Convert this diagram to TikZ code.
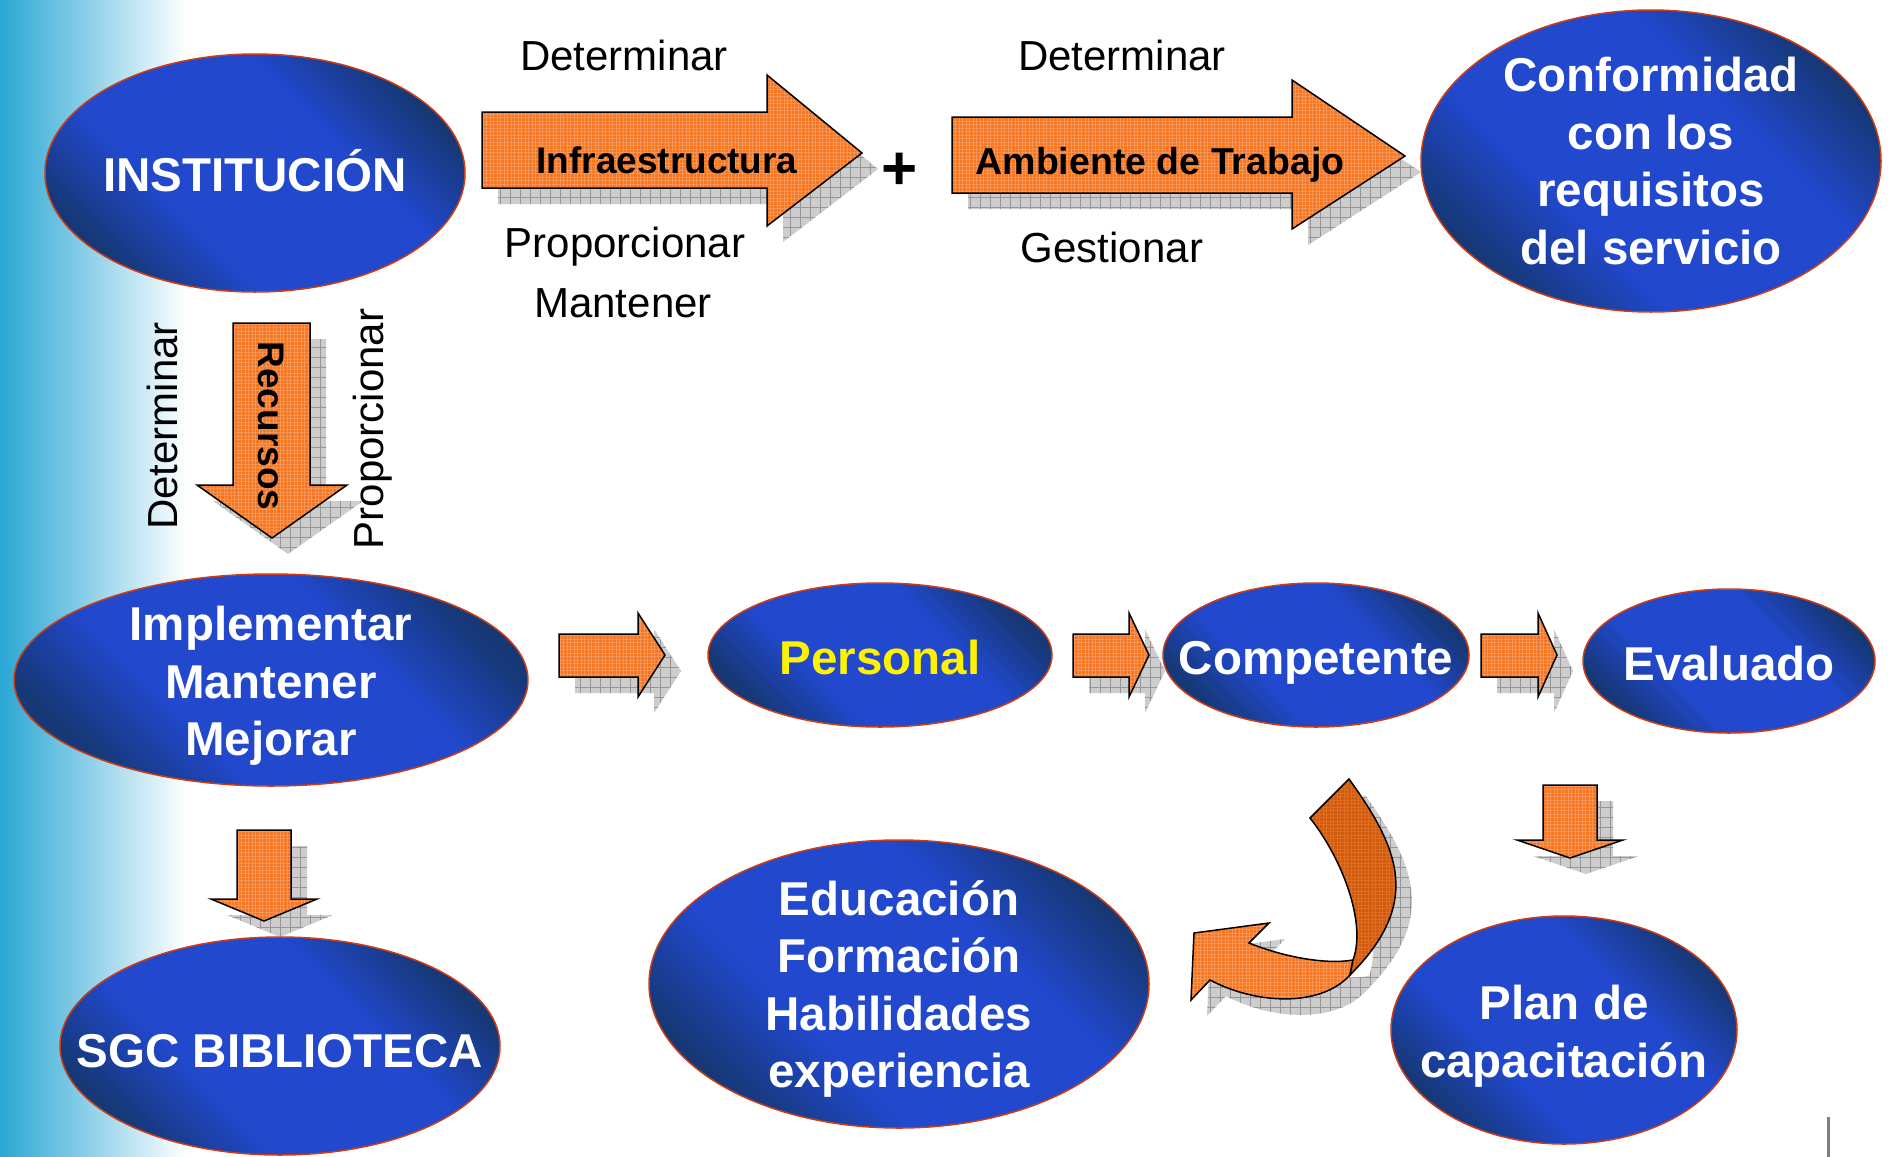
\documentclass[tikz,border=0pt]{standalone}
\usepackage{fontspec}
\setmainfont{Liberation Sans}
\usetikzlibrary{shapes.geometric,patterns.meta}
\definecolor{blueB}{RGB}{33,72,205}
\definecolor{navyD}{RGB}{22,56,118}
\definecolor{ellred}{RGB}{205,60,20}
\definecolor{orangeA}{RGB}{244,118,32}
\definecolor{orangeL}{RGB}{250,150,85}
\definecolor{orangeD}{RGB}{208,90,14}
\definecolor{orangeDL}{RGB}{224,110,35}
\definecolor{cyanL}{RGB}{42,166,212}
\definecolor{shgray}{RGB}{205,205,205}
\definecolor{shline}{RGB}{150,150,150}
\pgfdeclareverticalshading{ellshade}{100bp}{color(0bp)=(navyD); color(25bp)=(navyD); color(38bp)=(blueB); color(62bp)=(blueB); color(75bp)=(navyD); color(100bp)=(navyD)}
\newcommand\ellfont{\fontsize{47.5}{57.5}\selectfont\bfseries}
\newcommand\lblfont{\fontsize{42}{50}\selectfont}
\tikzset{
  ell/.style={ellipse, draw=ellred, line width=1.5pt, shading=ellshade, shading angle=-45, inner sep=0pt},
  etext/.style={text=white, font=\ellfont, align=center, inner sep=0pt},
  shadowfill/.style={fill=shgray, postaction={pattern={Hatch[angle=0,distance=10pt,line width=0.7pt]}, pattern color=shline}},
  arrowfill/.style={preaction={fill=orangeA}, preaction={pattern={Hatch[angle=0,distance=3.5pt,line width=0.4pt]}, pattern color=orangeL}, draw=black, line width=1.5pt, line join=miter},
  darkfill/.style={preaction={fill=orangeD}, preaction={pattern={Hatch[angle=0,distance=3.5pt,line width=0.4pt]}, pattern color=orangeDL}, draw=black, line width=1.5pt},
  lbl/.style={font=\lblfont, text=black, inner sep=0pt},
  albl/.style={font=\fontsize{37}{40}\selectfont\bfseries, text=black, inner sep=0pt}
}
% right arrow: left x, body top, body bottom, head base x, head top, head bottom, tip x, tip y
\newcommand{\RArrow}[8]{%
  \path[shadowfill, shift={(16,16)}] (#1,#2) -- (#4,#2) -- (#4,#5) -- (#7,#8) -- (#4,#6) -- (#4,#3) -- (#1,#3) -- cycle;
  \path[arrowfill] (#1,#2) -- (#4,#2) -- (#4,#5) -- (#7,#8) -- (#4,#6) -- (#4,#3) -- (#1,#3) -- cycle;}
% down arrow: body left x, body right x, top y, head base y, head left x, head right x, tip x, tip y
\newcommand{\DArrow}[8]{%
  \path[shadowfill, shift={(16,16)}] (#1,#3) -- (#2,#3) -- (#2,#4) -- (#6,#4) -- (#7,#8) -- (#5,#4) -- (#1,#4) -- cycle;
  \path[arrowfill] (#1,#3) -- (#2,#3) -- (#2,#4) -- (#6,#4) -- (#7,#8) -- (#5,#4) -- (#1,#4) -- cycle;}
\begin{document}
\begin{tikzpicture}[x=1pt,y=-1pt]
\useasboundingbox (0,0) rectangle (1891,1157);
\fill[white] (0,0) rectangle (1891,1157);
\shade[left color=cyanL, right color=white] (0,0) rectangle (187,1157);

% block arrows
\RArrow{482}{112}{188}{767}{75}{226}{862}{153}
\RArrow{952}{117}{193}{1292}{80}{229}{1405}{156}
\RArrow{559}{634}{677}{638}{613}{697}{665}{655}
\RArrow{1073}{634}{677}{1129}{613}{697}{1149}{655}
\RArrow{1481}{634}{677}{1538}{613}{697}{1557}{655}
\DArrow{233}{310}{323}{485}{197}{347}{272}{538}
\DArrow{237}{291}{830}{899}{211}{317}{264}{921}
\DArrow{1543}{1597}{785}{840}{1517}{1623}{1570}{858}

% curved arrow
\path[shadowfill, shift={(16,16)}] (1349,779) .. controls (1402,852) and (1420,905) .. (1350,975)
  .. controls (1320,1008) and (1255,1004) .. (1210,980) -- (1191,1000) -- (1194,933) -- (1269,923) -- (1249,943)
  .. controls (1281,956) and (1324,965) .. (1353,960) .. controls (1367,922) and (1341,857) .. (1310,818) -- cycle;
\path[arrowfill] (1350,975) .. controls (1320,1008) and (1255,1004) .. (1210,980) -- (1191,1000) -- (1194,933)
  -- (1269,923) -- (1249,943) .. controls (1281,956) and (1324,965) .. (1353,960) -- cycle;
\path[darkfill] (1349,779) .. controls (1402,852) and (1420,905) .. (1350,975) -- (1353,960)
  .. controls (1367,922) and (1341,857) .. (1310,818) -- cycle;

% ellipses
\node[ell, minimum width=420pt, minimum height=238pt] (inst) at (255,173) {};
\node[ell, minimum width=460pt, minimum height=302pt] (conf) at (1651,161) {};
\node[ell, minimum width=514pt, minimum height=212pt] (impl) at (271,680) {};
\node[ell, minimum width=344pt, minimum height=144pt] (pers) at (880,655) {};
\node[ell, minimum width=306pt, minimum height=144pt] (comp) at (1316,655) {};
\node[ell, minimum width=292pt, minimum height=144pt] (eval) at (1729,661) {};
\node[ell, minimum width=500pt, minimum height=288pt] (edu) at (899,984) {};
\node[ell, minimum width=346pt, minimum height=228pt] (plan) at (1564,1030) {};
\node[ell, minimum width=440pt, minimum height=218pt] (sgc) at (280,1046) {};

% ellipse texts
\node[etext, anchor=base] (inst-t) at (255,191) {INSTITUCIÓN};
\node[etext] (conf-t) at (conf.center) {Conformidad\\con los\\requisitos\\del servicio};
\node[etext, yshift=-6pt] (impl-t) at (impl.center) {Implementar\\Mantener\\Mejorar};
\node[etext, anchor=base, text=yellow] (pers-t) at (880,674) {Personal};
\node[etext, anchor=base] (comp-t) at (1316,674) {Competente};
\node[etext, anchor=base] (eval-t) at (1729,680) {Evaluado};
\node[etext, yshift=-5pt] (edu-t) at (edu.center) {Educación\\Formación\\Habilidades\\experiencia};
\node[etext, yshift=-6pt] (plan-t) at (plan.center) {Plan de\\capacitación};
\node[etext, anchor=base] (sgc-t) at (280,1067) {SGC BIBLIOTECA};

% arrow labels
\node[albl, anchor=base] (linfra) at (667,173) {Infraestructura};
\node[albl, anchor=base, font=\fontsize{37.5}{40}\selectfont\bfseries] (lamb) at (1160,174) {Ambiente de Trabajo};
\node[albl, anchor=base, rotate=-90] (lrec) at (258,426) {Recursos};
\node[inner sep=0pt, font=\fontsize{62}{62}\selectfont\bfseries] (plus) at (900,171) {+};

% verb labels
\node[lbl, anchor=base] (det1) at (624,70) {Determinar};
\node[lbl, anchor=base] (prop1) at (625,257) {Proporcionar};
\node[lbl, anchor=base] (mant1) at (623,317) {Mantener};
\node[lbl, anchor=base] (det2) at (1122,70) {Determinar};
\node[lbl, anchor=base] (gest) at (1112,262) {Gestionar};
\node[lbl, anchor=base, rotate=90] (det3) at (177,426) {Determinar};
\node[lbl, anchor=base, rotate=90] (prop2) at (383,429) {Proporcionar};

% small mark bottom right
\draw[gray, line width=3pt] (1828,1117) -- (1828,1157);
\end{tikzpicture}
\end{document}
